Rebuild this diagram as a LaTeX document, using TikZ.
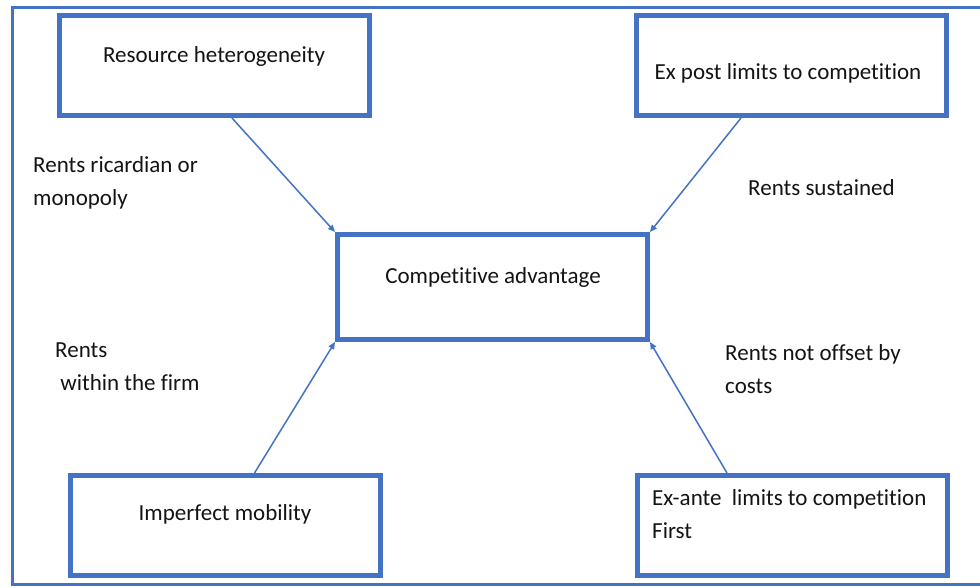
\documentclass[tikz,border=0pt]{standalone}
\usepackage{fontspec}
\setmainfont[Ligatures={NoCommon}]{Carlito}
\usetikzlibrary{calc,arrows.meta}
\definecolor{frameblue}{HTML}{4472C4}
\definecolor{txt}{HTML}{141414}
\tikzset{
  box/.style={draw=frameblue, line width=5pt, minimum width=310pt, minimum height=100pt, inner sep=0pt},
  cbox/.style={draw=frameblue, line width=5pt, minimum width=310pt, minimum height=105pt, inner sep=0pt},
  lbl/.style={text=txt, font=\fontsize{23}{33}\selectfont, inner sep=0pt},
  conn/.style={draw=frameblue, line width=1.5pt, -{Triangle[length=7pt,width=6pt]}},
}
\begin{document}
\begin{tikzpicture}[x=1pt,y=-1pt]
\useasboundingbox (0,0) rectangle (980,587);
\fill[white] (0,0) rectangle (980,587);
\begin{scope}
\clip (0,0) rectangle (980,587);
\draw[frameblue, line width=3pt] (12,7) rectangle (995,584);
\end{scope}
% boxes
\node[box] (rh) at (214.5,65.5) {};
\node[box] (ep) at (791.5,65.5) {};
\node[cbox] (ca) at (492.5,287) {};
\node[box] (im) at (225,525.5) {};
\node[box] (ea) at (792.5,525.5) {};
% box texts
\node[lbl] (trh) at (214,56) {Resource heterogeneity};
\node[lbl] (tep) at (788,73) {Ex post limits to competition};
\node[lbl] (tca) at (493,277) {Competitive advantage};
\node[lbl] (tim) at (225,514) {Imperfect mobility};
\node[lbl, anchor=west, align=left] (tea) at (652,514) {Ex-ante\ \ limits to competition\\First};
% edge labels
\node[lbl, anchor=west, align=left] (l1) at (33,183) {Rents ricardian or\\monopoly};
\node[lbl, anchor=west] (l2) at (748,188) {Rents sustained};
\node[lbl, anchor=west, align=left] (l3) at (55,367) {Rents\\\ within the firm};
\node[lbl, anchor=west, align=left] (l4) at (725,369) {Rents not offset by\\costs};
% connector end points
\coordinate (a1) at ($(rh.south west)+(175,0)$);
\coordinate (a2) at ($(ep.south west)+(107,0)$);
\coordinate (a3) at ($(im.north west)+(187,0)$);
\coordinate (a4) at ($(ea.north west)+(92,0)$);
\draw[conn] (a1) -- (ca.north west);
\draw[conn] (a2) -- (ca.north east);
\draw[conn] (a3) -- (ca.south west);
\draw[conn] (a4) -- (ca.south east);
\end{tikzpicture}
\end{document}
